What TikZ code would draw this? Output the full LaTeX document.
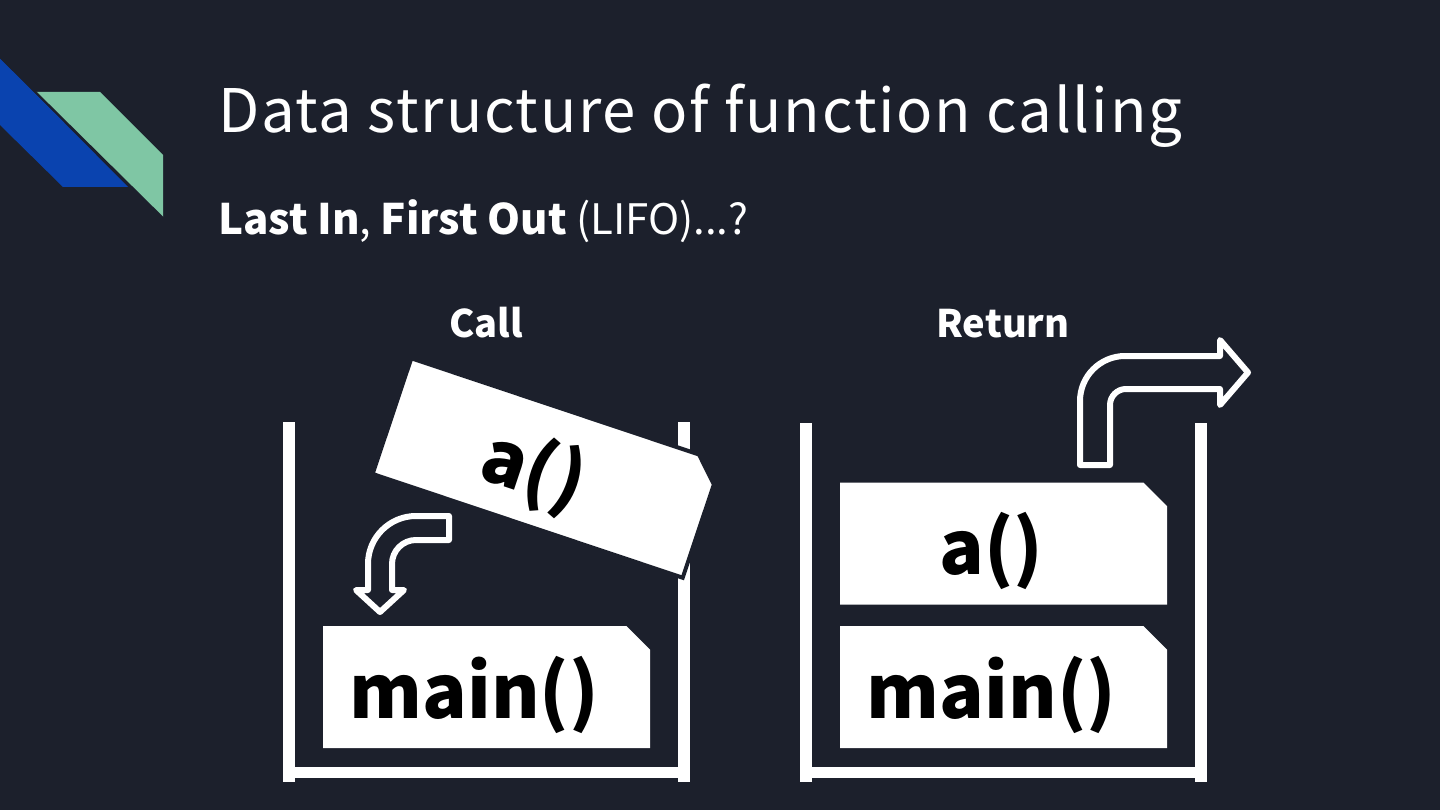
\documentclass[tikz,border=0pt]{standalone}
\usepackage{fontspec}
\setmainfont{Noto Sans CJK JP}
\usepackage{tikz}
\usetikzlibrary{
    shapes.misc,
}
\definecolor{slidebg}{RGB}{28,32,44}
\definecolor{stripeblue}{RGB}{10,67,175}
\definecolor{stripegreen}{RGB}{127,198,164}
\tikzset{
    % Stack frame styles
    frame box/.style={chamfered rectangle, chamfered rectangle corners=north east,
                      chamfered rectangle xsep=20pt, fill=white, text=black,
                      minimum width=327pt, minimum height=122pt, inner sep=0pt,
                      text height=70pt, text depth=8pt,
                      execute at end node={\hspace*{24pt}},
                      font=\bfseries\fontsize{74}{74}\selectfont},
    % Container styles
    wall/.style={white, line width=12pt},
    ground/.style={white, line width=11pt},
    % Arrow styles
    hollow arrow/.style={white, line width=6pt, line join=round},
    % Text styles
    heading/.style={text=white, inner sep=0pt, font=\bfseries\fontsize{38}{38}\selectfont},
}

\begin{document}
\begin{tikzpicture}[
    x=1pt, y=-1pt,
    slide title/.style={anchor=base west, text=white, inner sep=0pt},
]
    \useasboundingbox (0,0) rectangle (1440,810);
    \fill[slidebg] (0,0) rectangle (1440,810);

    % Corner stripes
    \fill[stripeblue] (0,58) -- (128,187) -- (63,187) -- (0,125) -- cycle;
    \fill[stripegreen] (35,92) -- (100,92) -- (163,155) -- (163,218) -- cycle;
    \draw[slidebg, line width=2pt] (0,57) -- (166,221);

    % Titles
    \node[slide title, font=\fontsize{60}{60}\selectfont\addfontfeatures{LetterSpace=3}] (title) at (218,133)
        {Data structure of function calling};
    \node[slide title, font=\fontsize{42}{42}\selectfont] (subtitle) at (218,235)
        {\textbf{Last In}, \textbf{First Out} (LIFO)...?};

    \node[heading, anchor=base] (call) at (486,337) {Call};
    \node[heading, anchor=base] (return) at (1003,337) {Return};

    % Call stack
    \draw[wall] (289,422) -- (289,782);
    \draw[wall] (684,422) -- (684,782);
    \draw[ground] (289,772.5) -- (684,772.5);

    \node[frame box] (mainL) at (486.5,687) {main()};

    % Pushed frame
    \draw[hollow arrow] (449,516) -- (416,516) .. controls (389.5,516) and (368,537.5) .. (368,564)
        -- (368,590) -- (356,590) -- (380,612) -- (404,590) -- (392,590) -- (392,564)
        .. controls (392,550.75) and (402.75,540) .. (416,540) -- (449,540) -- cycle;
    \node[frame box, draw=slidebg, line width=4pt, rotate=-18.5] (aL) at (547,468) {a()};

    % Return stack
    \draw[wall] (805.5,423) -- (805.5,782);
    \draw[wall] (1201,423) -- (1201,782);
    \draw[ground] (805.5,772.5) -- (1201,772.5);

    \node[frame box] (aR) at (1003.5,543.5) {a()};
    \node[frame box] (mainR) at (1003.5,687) {main()};

    % Popped frame
    \draw[hollow arrow] (1080,465) -- (1080,401) .. controls (1080,376.2) and (1100.2,356) .. (1125,356)
        -- (1220,356) -- (1220,340) -- (1248,372.5) -- (1220,405) -- (1220,389) -- (1126,389)
        .. controls (1117.2,389) and (1110,396.2) .. (1110,405) -- (1110,465) -- cycle;
\end{tikzpicture}
\end{document}
